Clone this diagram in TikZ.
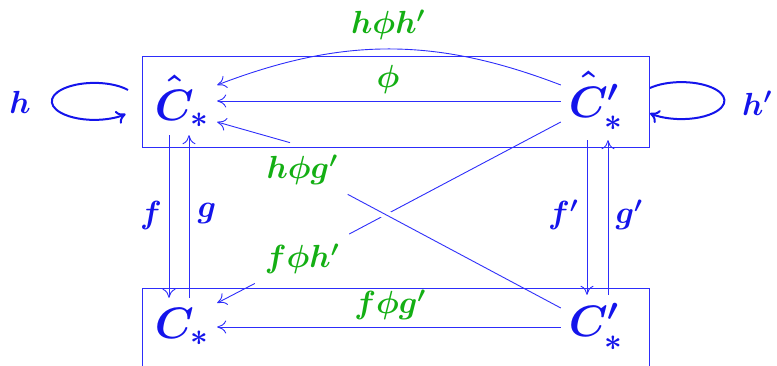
\RequirePackage{fix-cm}
\documentclass[tikz,border=0pt]{standalone}
\usepackage{exscale}
\usetikzlibrary{arrows.meta}
\definecolor{dblue}{RGB}{20,20,235}
\definecolor{lblue}{RGB}{45,45,250}
\definecolor{mgreen}{RGB}{20,175,20}
\tikzset{
  obj/.style={text=dblue, font=\fontsize{44}{50}\selectfont\boldmath, inner sep=0pt, minimum width=70pt},
  lab/.style={text=mgreen, font=\fontsize{32}{38}\selectfont\boldmath},
  map/.style={text=dblue, font=\fontsize{32}{38}\selectfont\boldmath},
  ln/.style={draw=lblue, line width=0.9pt},
  arr/.style={ln, -{Computer Modern Rightarrow[length=9pt,width=13pt]}},
  selfloop/.style={draw=dblue, line width=2pt, -{Computer Modern Rightarrow[length=9pt,width=14pt]}}
}
\newcommand{\hatC}{\rlap{$\hat{\rule{0pt}{0.8em}\phantom{C}}$}C}
\begin{document}
\begin{tikzpicture}[x=1pt, y=-1pt]
\useasboundingbox (0,0) rectangle (777,366);
% objects
\node[obj, minimum height=68pt] (Ch) at (182,101) {$\hatC_*$};
\node[obj, minimum height=78pt] (Chp) at (596,101) {$\hatC'_*$};
\node[obj, minimum height=58pt] (C) at (182,327) {$C_*$};
\node[obj, minimum height=64pt] (Cp) at (596,327) {$C'_*$};
% labels
\node[lab] (lhh) at (388,25) {$h\phi h'$};
\node[lab] (lphi) at (388,80) {$\phi$};
\node[lab, inner sep=10pt] (lhg) at (302,170) {$h\phi g'$};
\node[lab, inner sep=10pt] (lfh) at (302,259) {$f\phi h'$};
\node[lab] (lfg) at (390,305) {$f\phi g'$};
\node[map] (lf) at (151,216) {$f$};
\node[map] (lg) at (207,214) {$g$};
\node[map] (lfp) at (563,215) {$f'$};
\node[map] (lgp) at (629,215) {$g'$};
\node[map] (lh) at (20,102) {$h$};
\node[map] (lhp) at (757,103) {$h'$};
% horizontal maps
\draw[arr] (Chp.west) -- (Ch.east);
\draw[arr] ([yshift=16pt]Chp.west) to[bend right=21] ([yshift=16pt]Ch.east);
\draw[arr] (Cp.west) -- (C.east);
% diagonal maps
\draw[ln] ([yshift=-21pt]Chp.west) -- (lfh);
\draw[arr] (lfh) -- ([yshift=24pt]C.east);
\draw[ln, preaction={draw=white, line width=9pt}] ([yshift=19pt]Cp.west) -- (lhg);
\draw[arr] ([xshift=-12pt,yshift=2pt]lhg.north) -- ([yshift=-21pt]Ch.east);
% vertical maps
\draw[arr] ([xshift=-13pt]Ch.south) -- ([xshift=-13pt]C.north);
\draw[arr] ([xshift=7pt]C.north) -- ([xshift=7pt]Ch.south);
\draw[arr] ([xshift=-9pt]Chp.south) -- ([xshift=-9pt]Cp.north);
\draw[arr] ([xshift=12pt]Cp.north) -- ([xshift=12pt]Chp.south);
% self maps
\coordinate (hs) at (128,90);
\coordinate (hps) at (650,88);
\draw[selfloop] (hs) arc[start angle=38, end angle=317, x radius=42.6pt, y radius=18.5pt];
\draw[selfloop] (hps) arc[start angle=137, end angle=-137, x radius=43pt, y radius=18.5pt];
% boxes
\draw[ln] (142,56) rectangle (649,147);
\draw[ln] (142,366) -- (142,288) -- (649,288) -- (649,366);
\end{tikzpicture}
\end{document}
